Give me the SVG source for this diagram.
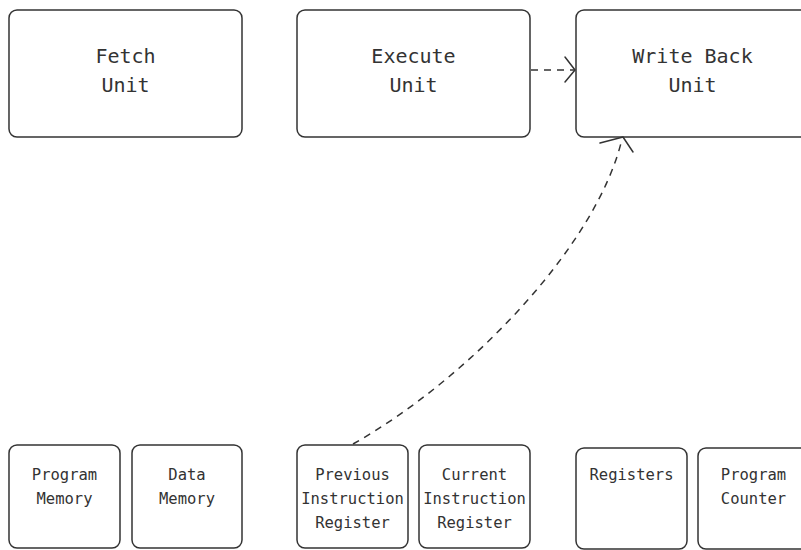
<svg xmlns="http://www.w3.org/2000/svg" width="801" height="550" viewBox="0 0 801 550">
  <style>
    .box { fill: #ffffff; stroke: #333333; stroke-width: 1.5; }
    .big { font-family: "DejaVu Sans Mono", "Liberation Mono", monospace; font-size: 20px; fill: #333333; text-anchor: middle; }
    .small { font-family: "DejaVu Sans Mono", "Liberation Mono", monospace; font-size: 15.5px; fill: #333333; text-anchor: middle; }
    .link { fill: none; stroke: #333333; stroke-width: 1.5; stroke-dasharray: 7 6; }
    .head { fill: none; stroke: #333333; stroke-width: 1.5; stroke-linecap: round; stroke-linejoin: round; }
  </style>
  <rect width="801" height="550" fill="#ffffff"/>

  <!-- pipeline units -->
  <g id="fetch-unit">
    <rect class="box" x="9" y="10" width="233" height="127" rx="8"/>
    <text class="big" x="125.5" y="63">Fetch</text>
    <text class="big" x="125.5" y="92">Unit</text>
  </g>
  <g id="execute-unit">
    <rect class="box" x="297" y="10" width="233" height="127" rx="8"/>
    <text class="big" x="413.5" y="63">Execute</text>
    <text class="big" x="413.5" y="92">Unit</text>
  </g>
  <g id="write-back-unit">
    <rect class="box" x="576" y="10" width="233" height="127" rx="8"/>
    <text class="big" x="692.5" y="63">Write Back</text>
    <text class="big" x="692.5" y="92">Unit</text>
  </g>

  <!-- storage elements -->
  <g id="program-memory">
    <rect class="box" x="9" y="445" width="111" height="103" rx="8"/>
    <text class="small" x="64.5" y="480">Program</text>
    <text class="small" x="64.5" y="504">Memory</text>
  </g>
  <g id="data-memory">
    <rect class="box" x="132" y="445" width="110" height="103" rx="8"/>
    <text class="small" x="187" y="480">Data</text>
    <text class="small" x="187" y="504">Memory</text>
  </g>
  <g id="previous-instruction-register">
    <rect class="box" x="297" y="445" width="111" height="103" rx="8"/>
    <text class="small" x="352.5" y="480">Previous</text>
    <text class="small" x="352.5" y="504">Instruction</text>
    <text class="small" x="352.5" y="528">Register</text>
  </g>
  <g id="current-instruction-register">
    <rect class="box" x="419" y="445" width="111" height="103" rx="8"/>
    <text class="small" x="474.5" y="480">Current</text>
    <text class="small" x="474.5" y="504">Instruction</text>
    <text class="small" x="474.5" y="528">Register</text>
  </g>
  <g id="registers">
    <rect class="box" x="576" y="448" width="111" height="101" rx="8"/>
    <text class="small" x="631.5" y="480">Registers</text>
  </g>
  <g id="program-counter">
    <rect class="box" x="698" y="448" width="111" height="101" rx="8"/>
    <text class="small" x="753.5" y="480">Program</text>
    <text class="small" x="753.5" y="504">Counter</text>
  </g>

  <!-- connectors -->
  <g id="connectors">
    <line class="link" x1="531" y1="70" x2="574" y2="70"/>
    <polyline class="head" points="565,57 575,70 565,82"/>
    <path class="link" d="M353,444 C470,378 597,245 622,139"/>
    <polyline class="head" points="600,143 623,137 633,152"/>
  </g>
</svg>
